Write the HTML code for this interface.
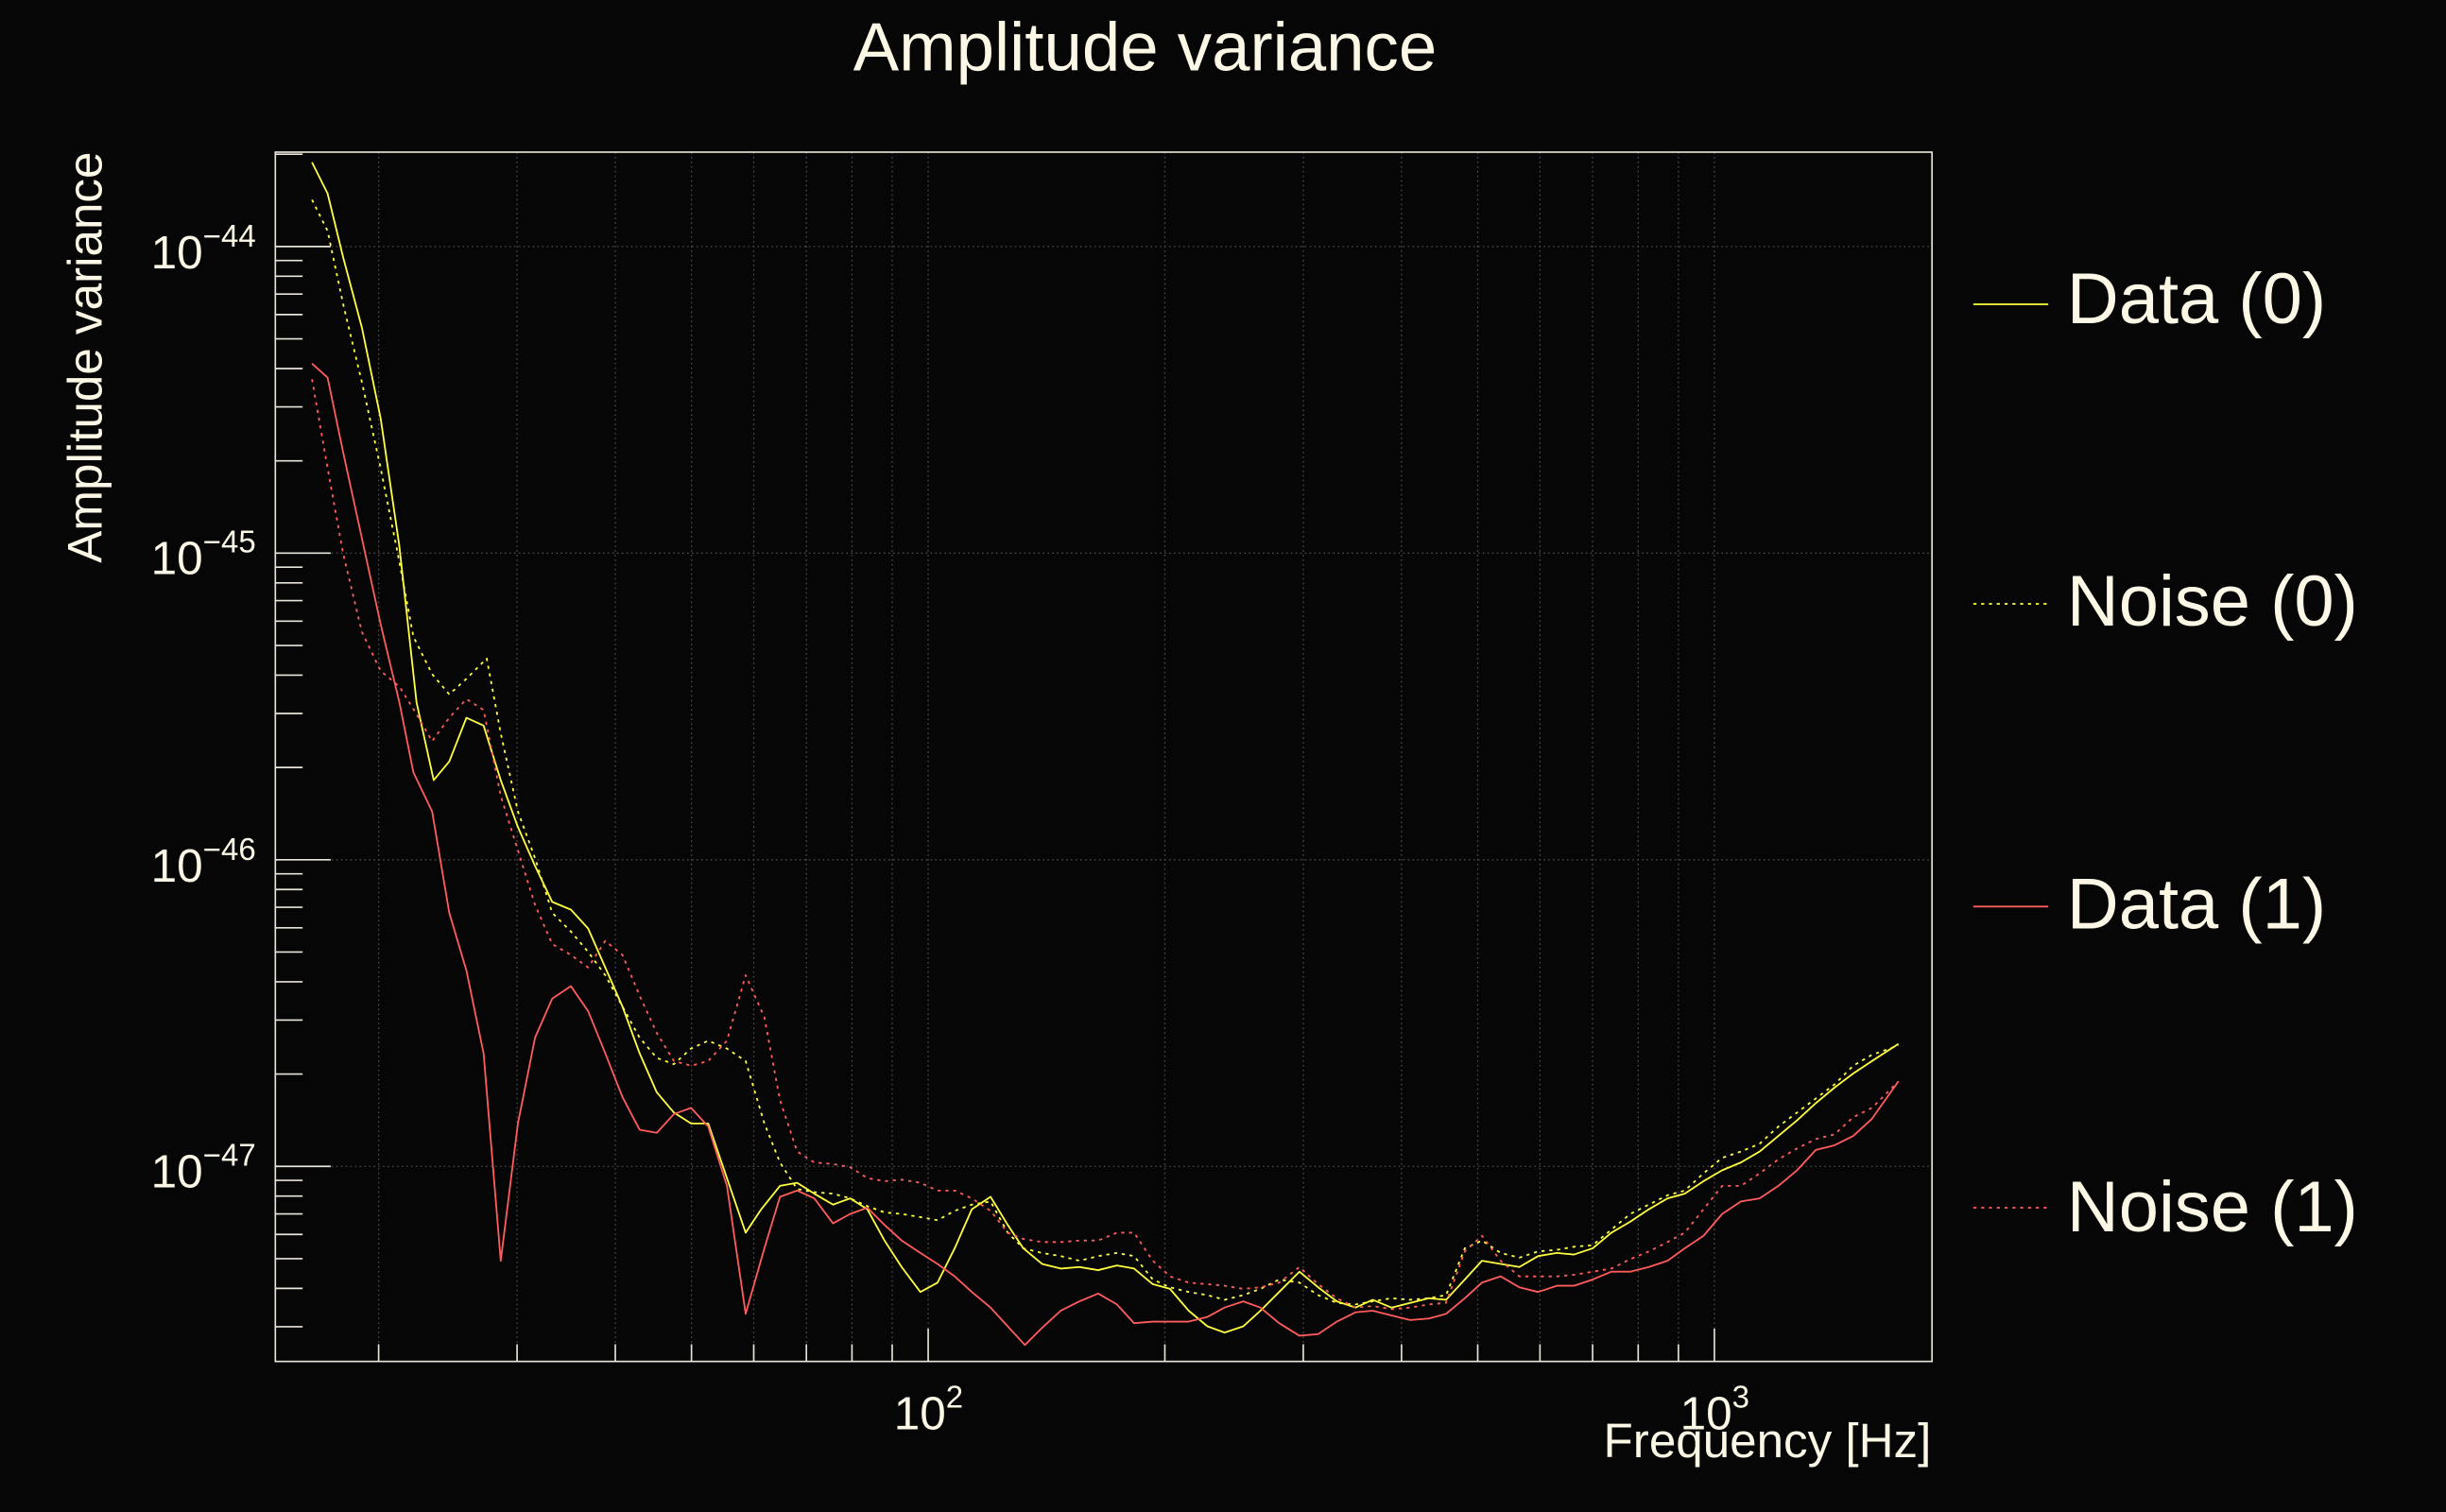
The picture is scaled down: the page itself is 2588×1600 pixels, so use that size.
<!DOCTYPE html>
<html><head><meta charset="utf-8"><style>
html,body{margin:0;padding:0;background:#060606;}
svg{display:block;}
text{font-family:"Liberation Sans",sans-serif;fill:#fdf8e6;}
</style></head><body>
<svg id="s" width="2588" height="1600" viewBox="0 0 1568 969" preserveAspectRatio="none" xmlns="http://www.w3.org/2000/svg">
<rect width="1568" height="969" fill="#060606"/>
<g id="grid"></g>
<rect x="176.5" y="97.5" width="1062" height="775" fill="none" stroke="#e8e4d8" stroke-width="1"/>
<g id="ticks" stroke="#e8e4d8" stroke-width="1"></g>
<g fill="none" stroke-width="1.1" stroke-linejoin="round">
<polyline stroke="#ffff40" points="200,104 210,124 220,165 232,210 244,268 256,350 267,450 278,500 288,488 299,460 310,465 321,500 332,530 343,555 354,578 366,583 377,595 388,620 399,645 410,675 421,700 432,713 443,720 454,720 466,755 478,790 488,775 500,760 511,758 522,765 534,772 545,768 556,775 567,795 578,812 590,828 601,822 612,800 623,775 635,767 646,785 656,800 668,810 680,813 692,812 704,814 716,811 727,813 739,823 750,826 762,840 774,850 785,854 797,850 808,840 820,828 833,815 845,825 857,834 869,838 880,833 892,838 904,835 916,832 927,833 939,820 950,808 962,810 974,812 986,805 998,803 1009,804 1021,800 1033,790 1045,783 1057,775 1069,768 1080,765 1092,757 1104,750 1116,745 1128,738 1140,728 1152,718 1164,707 1176,697 1188,688 1200,680 1217,669"/>
<polyline stroke="#ffff40" stroke-dasharray="2,3" points="200,128 210,148 220,195 232,245 244,300 256,360 265,408 277,432 288,445 299,435 312,422 321,470 332,520 343,550 354,585 366,597 377,610 388,625 399,645 410,665 421,678 432,682 443,672 454,667 466,672 478,680 490,720 500,745 511,762 522,764 534,765 545,768 556,773 567,777 578,778 590,780 601,782 612,776 623,772 635,770 646,790 656,800 668,803 680,805 692,808 704,805 716,803 727,805 739,820 750,825 762,828 774,830 785,833 797,830 808,826 820,820 833,822 845,830 857,835 869,836 880,834 892,832 904,833 916,832 927,830 939,800 950,795 962,803 974,806 986,802 998,801 1009,799 1021,798 1033,788 1045,778 1057,772 1069,766 1080,763 1092,752 1104,742 1116,738 1128,733 1140,722 1152,713 1164,704 1176,695 1188,683 1200,676 1217,670"/>
<polyline stroke="#ff5c5c" points="200,233 210,242 220,290 232,345 244,400 256,450 265,495 277,520 288,585 299,622 310,675 321,808 332,720 343,665 354,640 366,632 377,648 388,675 399,703 410,724 421,726 432,714 443,710 454,722 466,760 478,842 490,800 500,767 511,763 522,768 534,784 545,778 556,774 567,785 578,795 590,803 601,810 612,818 623,828 635,838 646,850 657,862 668,851 680,840 692,834 704,829 716,836 727,848 739,847 750,847 762,847 774,844 785,838 797,834 808,838 820,848 833,856 845,855 857,847 869,841 880,840 892,843 904,846 916,845 927,842 939,832 950,822 962,818 974,825 986,828 998,824 1009,824 1021,820 1033,815 1045,815 1057,812 1069,808 1080,800 1092,792 1104,778 1116,770 1128,768 1140,760 1152,750 1164,737 1176,734 1188,728 1200,717 1217,693"/>
<polyline stroke="#ff5c5c" stroke-dasharray="2,3" points="200,243 210,300 220,355 232,405 244,430 256,440 266,456 277,475 288,460 299,448 310,455 321,510 332,545 343,580 354,605 366,612 377,620 388,603 399,612 410,638 421,662 432,680 443,683 454,680 466,667 478,625 490,652 500,705 511,738 522,745 534,746 545,748 556,755 567,757 578,756 590,758 601,763 612,763 623,768 635,776 646,790 656,794 668,796 680,796 692,795 704,795 716,790 727,790 739,808 750,818 762,822 774,823 785,824 797,826 808,825 820,822 833,812 845,823 857,832 869,838 880,837 892,839 904,838 916,836 927,835 939,802 950,792 962,808 974,818 986,818 998,818 1009,817 1021,815 1033,813 1045,807 1057,802 1069,796 1080,790 1092,775 1104,760 1116,760 1128,752 1140,743 1152,736 1164,730 1176,727 1188,716 1200,710 1217,693"/>
</g>
<text x="734" y="45" font-size="44" text-anchor="middle">Amplitude variance</text>
<text transform="translate(65,229) rotate(-90)" font-size="31" text-anchor="middle">Amplitude variance</text>
<text x="1238" y="934" font-size="31" text-anchor="end">Frequency [Hz]</text>
<g font-size="30" text-anchor="end">
<text x="164" y="172">10<tspan font-size="20" dy="-14">−44</tspan></text>
<text x="164" y="368">10<tspan font-size="20" dy="-14">−45</tspan></text>
<text x="164" y="565">10<tspan font-size="20" dy="-14">−46</tspan></text>
<text x="164" y="761">10<tspan font-size="20" dy="-14">−47</tspan></text>
</g>
<g font-size="30">
<text x="573" y="916">10<tspan font-size="20" dy="-14">2</tspan></text>
<text x="1077" y="916">10<tspan font-size="20" dy="-14">3</tspan></text>
</g>
<g stroke-width="1.1">
<line x1="1265" y1="195" x2="1313" y2="195" stroke="#ffff40"/>
<line x1="1265" y1="387" x2="1313" y2="387" stroke="#ffff40" stroke-dasharray="2,3"/>
<line x1="1265" y1="581" x2="1313" y2="581" stroke="#ff5c5c"/>
<line x1="1265" y1="774" x2="1313" y2="774" stroke="#ff5c5c" stroke-dasharray="2,3"/>
</g>
<g font-size="46">
<text x="1325" y="207">Data (0)</text>
<text x="1325" y="401">Noise (0)</text>
<text x="1325" y="595">Data (1)</text>
<text x="1325" y="789">Noise (1)</text>
</g>
</svg>
<script>
var NS="http://www.w3.org/2000/svg";
var g=document.getElementById("grid"),t=document.getElementById("ticks");
function L(p,x1,y1,x2,y2,extra){var l=document.createElementNS(NS,"line");l.setAttribute("x1",x1);l.setAttribute("y1",y1);l.setAttribute("x2",x2);l.setAttribute("y2",y2);if(extra){for(var k in extra)l.setAttribute(k,extra[k]);}p.appendChild(l);}
var gs={stroke:"#4a4a4a","stroke-width":"0.8","stroke-dasharray":"1,2"};
function X(f){return 595+504*Math.log10(f/100);}
function Y(e){return 158-196.5*(e+44);}
var xs=[20,30,40,50,60,70,80,90,100,200,300,400,500,600,700,800,900,1000];
xs.forEach(function(f){var x=X(f);L(g,x,97.5,x,872,gs);var maj=(f==100||f==1000);L(t,x,872.5,x,872.5-(maj?21:11));});
for(var d=-48;d<=-44;d++){for(var m=1;m<=9;m++){var e=d+Math.log10(m);var y=Y(e);if(y<97.5||y>872)continue;if(m==1){L(g,176.5,y,1238,y,gs);L(t,176.5,y,212,y);}else L(t,176.5,y,194,y);}}
</script>
</body></html>
